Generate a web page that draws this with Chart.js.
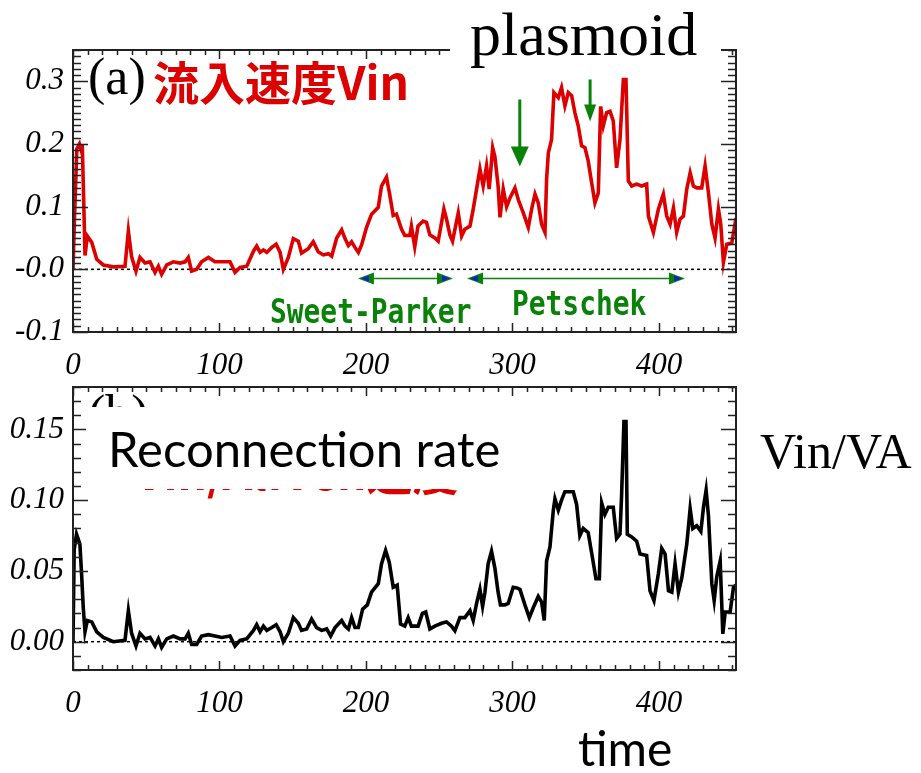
<!DOCTYPE html>
<html>
<head>
<meta charset="utf-8">
<script src="https://cdn.jsdelivr.net/npm/chart.js@4.4.1/dist/chart.umd.min.js"></script>
<style>
  html, body { margin: 0; padding: 0; background: #fff; }
  #wrap { position: relative; width: 921px; height: 773px; overflow: hidden; background: #fff; }
  canvas { position: absolute; left: 0; }
  .txt { position: absolute; white-space: nowrap; line-height: 1; }
  .box { position: absolute; background: #fff; }
  .serif { font-family: "Liberation Serif", "DejaVu Serif", serif; }
  .jp { font-family: "Noto Sans CJK JP", sans-serif; font-weight: bold; color: #dd0000; }
  .mono { font-family: "DejaVu Sans Mono", monospace; font-weight: bold; color: #0a820a; transform: scaleX(0.82); transform-origin: 0 0; }
  .sans { font-family: Lato, "Open Sans", sans-serif; }
</style>
</head>
<body>
<div id="wrap">
  <canvas id="vinChart" width="921" height="380" style="top:0;width:921px;height:380px"></canvas>
  <canvas id="rateChart" width="921" height="393" style="top:380px;width:921px;height:393px"></canvas>

  <!-- panel (a) labels -->
  <div class="txt serif" style="left:88px;top:51px;font-size:52px;z-index:2">(a)</div>
  <div class="txt jp" style="left:153px;top:57px;font-size:46px;z-index:2">流入速度Vin</div>
  <div class="txt mono" style="left:270px;top:294px;font-size:34px;z-index:2">Sweet-Parker</div>
  <div class="txt mono" style="left:512px;top:286px;font-size:34px;z-index:2">Petschek</div>

  <!-- panel (b) original label, mostly hidden -->
  <div class="txt serif" style="left:88px;top:388px;font-size:52px;z-index:2">(b)</div>
  <div class="txt jp" style="left:135px;top:447px;font-size:46px;z-index:2">Vin/Alfven速度</div>

  <!-- white boxes -->
  <div class="box" style="left:450px;top:0;width:271px;height:62px;z-index:3"></div>
  <div class="box" style="left:86px;top:407px;width:438px;height:82px;z-index:3"></div>

  <!-- overlay labels -->
  <div class="txt serif" style="left:470px;top:3px;font-size:62px;z-index:4">plasmoid</div>
  <div class="txt sans" style="left:108px;top:424px;font-size:49px;z-index:4">Reconnection rate</div>
  <div class="txt serif" style="left:760px;top:426px;font-size:50px;z-index:4">Vin/VA</div>
  <div class="txt sans" style="left:578px;top:724px;font-size:48px;z-index:4">time</div>
</div>

<script>
// === Data ===
const timeVin = [0, 1, 2.6, 4.4, 5.6, 6.3, 7, 8.2, 9.8, 12.8, 16.2, 20.7, 27.5, 35.5, 37.8, 40, 43, 45.7, 49.2, 52.6,
  56, 58.3, 60.5, 64, 68.5, 73.1, 76.5, 78.7, 81, 84.4, 87.8, 92.4, 96.9, 101.5, 107.2, 110.6, 114, 118.6, 123.2, 125.4,
  127.7, 130, 132.3, 135.7, 138.7, 141.4, 143.6, 147, 150.4, 153.8, 156, 160.6, 164, 167.4, 170.9, 174.3, 176.6, 180, 183.4, 185.7,
  188, 190.2, 192.5, 194.8, 197, 200.4, 203.8, 208.4, 210.6, 214, 216.3, 218.6, 220.8, 224.3, 226.5, 229.9, 231, 233.3, 235.5, 239,
  241.3, 243.6, 247, 249.3, 253.2, 255, 257.3, 259.1, 263, 265.3, 267.5, 271, 273.2, 275.5, 277.8, 280, 282.3, 284.1, 286.5, 288,
  290.2, 291.5, 293.7, 296, 298.3, 301.7, 304, 307.4, 310.8, 313.1, 315.4, 317.6, 319.9, 322.2, 323.3, 324.5, 326.7, 328.3, 331.3, 333.5,
  335.8, 338.1, 340.4, 342.6, 344.9, 347.2, 349.5, 351.7, 354, 356.3, 358.6, 360.2, 362, 364.3, 366.6, 368.8, 371.1, 373.4, 375.7, 377.5,
  379.1, 381.4, 384.8, 388.2, 391.6, 392.8, 396.2, 399.6, 403, 405.3, 407.6, 409.9, 412.1, 414.4, 416.7, 419, 421.3, 423.5, 425.8, 429.2,
  431.5, 433.8, 436.1, 438.3, 440.6, 442.2, 444, 446.3, 449.7, 452.6];
const vin = [0, 0.08, 0.192, 0.2, 0.19, 0.2, 0.139, 0.022, 0.053, 0.043, 0.016, 0.007, 0.004, 0.005, 0.061, 0.02, -0.003, 0.019, 0.01, 0.012,
  -0.005, 0.005, -0.008, 0.007, 0.012, 0.01, 0.012, 0.019, -0.003, 0, 0.012, 0.019, 0.012, 0.012, 0.012, -0.005, 0.003, 0.005, 0.029, 0.037,
  0.027, 0.031, 0.027, 0.035, 0.04, 0.027, 0, 0.019, 0.049, 0.045, 0.026, 0.033, 0.044, 0.028, 0.023, 0.025, 0.021, 0.05, 0.063, 0.049,
  0.038, 0.044, 0.035, 0.027, 0.039, 0.067, 0.088, 0.099, 0.133, 0.147, 0.118, 0.086, 0.088, 0.064, 0.054, 0.054, 0.069, 0.036, 0.069, 0.077,
  0.075, 0.055, 0.05, 0.045, 0.096, 0.08, 0.055, 0.045, 0.09, 0.053, 0.064, 0.069, 0.096, 0.128, 0.16, 0.133, 0.165, 0.128, 0.194, 0.18,
  0.133, 0.083, 0.128, 0.1, 0.114, 0.13, 0.111, 0.09, 0.067, 0.096, 0.12, 0.106, 0.072, 0.059, 0.144, 0.186, 0.207, 0.282, 0.274, 0.29,
  0.261, 0.282, 0.277, 0.25, 0.229, 0.197, 0.194, 0.173, 0.139, 0.106, 0.122, 0.26, 0.229, 0.25, 0.252, 0.237, 0.162, 0.207, 0.303, 0.303,
  0.141, 0.133, 0.136, 0.133, 0.136, 0.085, 0.059, 0.096, 0.12, 0.085, 0.072, 0.098, 0.059, 0.08, 0.085, 0.128, 0.154, 0.133, 0.13, 0.13,
  0.165, 0.122, 0.072, 0.05, 0.096, 0.072, 0.011, 0.04, 0.042, 0.082];

const timeRate = [0, 0.8, 2.4, 4.7, 5.9, 7, 8.2, 9.8, 12.8, 16.2, 20.7, 27.5, 35.5, 37.8, 40, 43, 45.7, 49.2, 52.6, 56,
  58.3, 60.5, 64, 68.5, 73.1, 76.5, 78.7, 81, 84.4, 87.8, 92.4, 96.9, 101.5, 107.2, 110.6, 114, 118.6, 123.2, 125.4, 127.7,
  130, 132.3, 135.7, 138.7, 141.4, 143.6, 147, 150.4, 153.8, 156, 159.5, 162.9, 166.3, 169.7, 173.2, 175.9, 178.9, 183.4, 185.7, 188,
  190.2, 192.5, 194.8, 197.7, 200.9, 203.8, 208.4, 210.6, 213.4, 215.9, 218.6, 221.3, 223.6, 226.5, 228.8, 231, 235.6, 238.5, 240.8, 243.6,
  247, 251.6, 255, 258.4, 260.7, 264.1, 267.5, 271, 273.2, 275.5, 277.8, 279.6, 281.2, 283.4, 285.7, 288, 290.2, 291.8, 294.8, 297.1,
  300.5, 303, 305.1, 308.5, 311.5, 314.2, 317.6, 319.9, 321.7, 323.3, 325.6, 327.9, 329, 331.3, 333.5, 335.8, 339.2, 341.5, 343.8, 346,
  348.3, 351.7, 354, 357, 359.3, 360.9, 363.1, 365.4, 368.8, 371.1, 373.4, 374.5, 376.1, 377.5, 378.4, 381.4, 384.8, 387.1, 391.6, 393.9,
  396.6, 399.6, 401.9, 404.2, 406.5, 408.8, 411, 413.3, 415.6, 419, 421.3, 423.1, 425.8, 428.6, 430.4, 432.2, 433.8, 436.1, 437.7, 439.5,
  441.8, 443.6, 445.2, 448.6, 450.9, 452.5];
const rate = [0, 0.065, 0.076, 0.069, 0.047, 0.024, 0.007, 0.015, 0.014, 0.007, 0.003, 0, 0.001, 0.022, 0.006, -0.003, 0.006, 0.002, 0.003, -0.003,
  0.002, -0.004, 0.002, 0.004, 0.002, 0.002, 0.006, -0.002, -0.002, 0.004, 0.005, 0.004, 0.003, 0.004, -0.003, 0.001, 0.002, 0.008, 0.012, 0.007,
  0.011, 0.008, 0.01, 0.012, 0.007, 0, 0.006, 0.017, 0.013, 0.008, 0.009, 0.016, 0.01, 0.008, 0.009, 0.004, 0.01, 0.015, 0.011, 0.009,
  0.017, 0.01, 0.01, 0.023, 0.026, 0.035, 0.041, 0.055, 0.0645, 0.056, 0.0385, 0.04, 0.0125, 0.011, 0.017, 0.011, 0.011, 0.02, 0.021, 0.009,
  0.011, 0.013, 0.014, 0.011, 0.0077, 0.017, 0.017, 0.022, 0.015, 0.027, 0.037, 0.025, 0.035, 0.055, 0.064, 0.052, 0.035, 0.026, 0.026, 0.027,
  0.0385, 0.038, 0.037, 0.026, 0.017, 0.024, 0.032, 0.028, 0.015, 0.057, 0.067, 0.093, 0.101, 0.093, 0.1, 0.106, 0.106, 0.106, 0.097, 0.075,
  0.08, 0.077, 0.063, 0.0445, 0.0445, 0.098, 0.09, 0.095, 0.095, 0.073, 0.076, 0.1035, 0.1555, 0.1555, 0.076, 0.074, 0.071, 0.062, 0.061, 0.036,
  0.029, 0.048, 0.066, 0.062, 0.036, 0.035, 0.055, 0.035, 0.045, 0.069, 0.094, 0.08, 0.082, 0.078, 0.095, 0.107, 0.089, 0.041, 0.029, 0.046,
  0.057, 0.0055, 0.021, 0.021, 0.0385, 0.04];

const xTicks = [0, 100, 200, 300, 400];
const xTickLabels = ["0", "100", "200", "300", "400"];
const yTicksVin = [-0.1, 0, 0.1, 0.2, 0.3];
const yTickLabelsVin = ["-0.1", "-0.0", "0.1", "0.2", "0.3"];
const yTicksRate = [0, 0.05, 0.10, 0.15];
const yTickLabelsRate = ["0.00", "0.05", "0.10", "0.15"];

// annotation ranges (time units)
const sweetParkerSpan = [194.5, 259.4];
const petschekSpan = [269, 417.8];
const regimeArrowLevel = -0.0145;
const plasmoidArrows = [
  { t: 305, from: 0.271, to: 0.164, headW: 18, headL: 20 },
  { t: 353, from: 0.303, to: 0.236, headW: 12, headL: 17 }
];

const tickFont = { family: "'Liberation Serif', serif", size: 31, style: "italic" };
const green = "#0a820a";

// === IDL-style axes: box with inward major/minor ticks on all sides ===
const idlAxes = {
  id: "idlAxes",
  afterDatasetsDraw(chart, args, opts) {
    const { ctx, chartArea: a, scales: { x, y } } = chart;
    ctx.save();
    ctx.strokeStyle = "#222";
    ctx.lineWidth = 2;
    ctx.strokeRect(a.left, a.top, a.right - a.left, a.bottom - a.top);
    ctx.lineWidth = 1.5;
    ctx.beginPath();
    // x ticks every 10, major every 100
    for (let k = 0; k * 10 <= x.max; k++) {
      const px = Math.round(x.getPixelForValue(k * 10)) + 0.5;
      const len = k % 10 === 0 ? 9 : 5;
      ctx.moveTo(px, a.bottom); ctx.lineTo(px, a.bottom - len);
      ctx.moveTo(px, a.top); ctx.lineTo(px, a.top + len);
    }
    // y ticks every 0.01
    const n0 = Math.ceil(y.min * 100 - 1e-6), n1 = Math.floor(y.max * 100 + 1e-6);
    for (let k = n0; k <= n1; k++) {
      const py = Math.round(y.getPixelForValue(k / 100)) + 0.5;
      const major = opts.yMajor.some(v => Math.abs(v * 100 - k) < 1e-6);
      const len = major ? 15 : 8;
      ctx.moveTo(a.left, py); ctx.lineTo(a.left + len, py);
      ctx.moveTo(a.right, py); ctx.lineTo(a.right - len, py);
    }
    ctx.stroke();
    ctx.restore();
  }
};

// === arrows on panel (a) ===
function arrowHead(ctx, tipX, tipY, dx, dy, len, halfW, fill) {
  const bx = tipX - dx * len, by = tipY - dy * len;
  ctx.fillStyle = fill;
  ctx.beginPath();
  ctx.moveTo(tipX, tipY);
  ctx.lineTo(bx - dy * halfW, by + dx * halfW);
  ctx.lineTo(bx + dy * halfW, by - dx * halfW);
  ctx.closePath();
  ctx.fill();
}

const regimeArrows = {
  id: "regimeArrows",
  afterDraw(chart) {
    if (chart.canvas.id !== "vinChart") return;
    const { ctx, scales: { x, y } } = chart;
    ctx.save();
    const yy = y.getPixelForValue(regimeArrowLevel);
    [sweetParkerSpan, petschekSpan].forEach(s => {
      const x1 = x.getPixelForValue(s[0]), x2 = x.getPixelForValue(s[1]);
      ctx.strokeStyle = green;
      ctx.lineWidth = 1.5;
      ctx.beginPath();
      ctx.moveTo(x1 + 8, yy); ctx.lineTo(x2 - 8, yy);
      ctx.stroke();
      arrowHead(ctx, x1, yy, -1, 0, 16, 6, green);
      arrowHead(ctx, x2, yy, 1, 0, 16, 6, green);
      arrowHead(ctx, x1 + 3, yy, -1, 0, 8, 3, "#1020d0");
      arrowHead(ctx, x2 - 3, yy, 1, 0, 8, 3, "#1020d0");
    });
    plasmoidArrows.forEach(p => {
      const px = x.getPixelForValue(p.t);
      const y1 = y.getPixelForValue(p.from), y2 = y.getPixelForValue(p.to);
      ctx.strokeStyle = green;
      ctx.lineWidth = 3;
      ctx.beginPath();
      ctx.moveTo(px, y1); ctx.lineTo(px, y2 - p.headL + 2);
      ctx.stroke();
      arrowHead(ctx, px, y2, 0, 1, p.headL, p.headW / 2, green);
    });
    ctx.restore();
  }
};

function makeChart(id, times, values, color, yMin, yMax, yTicks, yLabels, padTop, xHeight) {
  return new Chart(document.getElementById(id), {
    type: "line",
    data: {
      datasets: [
        {
          data: times.map((t, i) => ({ x: t, y: values[i] })),
          borderColor: color,
          borderWidth: 3.6,
          pointRadius: 0,
          tension: 0,
          fill: false
        },
        {
          data: [{ x: 0, y: 0 }, { x: 452.6, y: 0 }],
          borderColor: "#000",
          borderWidth: 1.5,
          borderDash: [3, 3],
          pointRadius: 0
        }
      ]
    },
    options: {
      responsive: false,
      animation: false,
      devicePixelRatio: 1,
      layout: { padding: { left: 0, right: 185, top: padTop, bottom: 0 } },
      plugins: {
        legend: { display: false },
        tooltip: { enabled: false },
        idlAxes: { yMajor: yTicks }
      },
      scales: {
        x: {
          type: "linear",
          min: 0,
          max: 452.6,
          grid: { display: false, drawTicks: false },
          border: { display: false },
          afterBuildTicks: s => { s.ticks = xTicks.map(v => ({ value: v })); },
          afterFit: s => { s.height = xHeight; s.paddingLeft = 0; s.paddingRight = 0; },
          ticks: {
            autoSkip: false,
            maxRotation: 0,
            padding: 15,
            color: "#000",
            font: tickFont,
            callback: (v, i) => xTickLabels[i]
          }
        },
        y: {
          min: yMin,
          max: yMax,
          grid: { display: false, drawTicks: false },
          border: { display: false },
          afterBuildTicks: s => { s.ticks = yTicks.map(v => ({ value: v })); },
          afterFit: s => { s.width = 73; s.paddingTop = 0; s.paddingBottom = 0; },
          ticks: {
            autoSkip: false,
            padding: 9,
            color: "#000",
            font: tickFont,
            callback: (v, i) => yLabels[i]
          }
        }
      }
    },
    plugins: [idlAxes, regimeArrows]
  });
}

makeChart("vinChart", timeVin, vin, "#dd0000", -0.1, 0.35, yTicksVin, yTickLabelsVin, 50, 48);
makeChart("rateChart", timeRate, rate, "#000000", -0.02, 0.18, yTicksRate, yTickLabelsRate, 7, 103);
</script>
</body>
</html>
